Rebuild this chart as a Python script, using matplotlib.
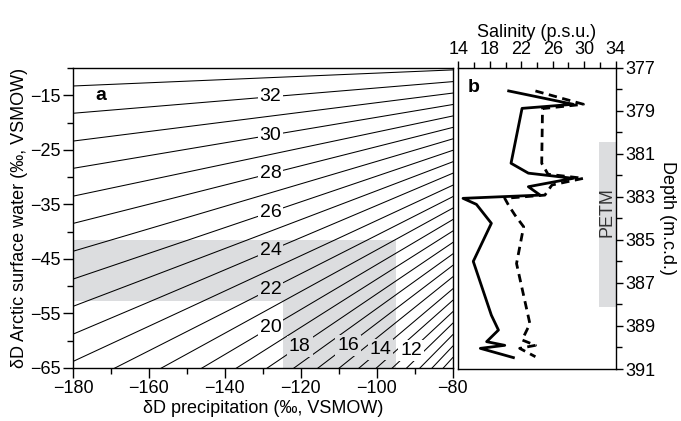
import numpy as np
import matplotlib.pyplot as plt
from matplotlib.ticker import MultipleLocator

plt.rcParams['font.family'] = ['Liberation Sans', 'DejaVu Sans']
plt.rcParams['font.size'] = 13

# panel a: salinity isolines, dD of surface water at dD precip = -180 and -80
sal_levels = [33, 32, 31, 30, 29, 28, 27, 26, 25, 24, 23, 22, 21, 20,
              19, 18, 17, 16, 15, 14, 13, 12, 11, 10, 9, 8]
sw_at_p180 = [-13.3, -18.3, -23.4, -28.4, -33.5, -38.5, -43.6, -48.7, -53.7,
              -58.8, -63.8, -68.9, -73.9, -79.0, -84.0, -89.1, -94.1, -99.2,
              -104.2, -109.3, -114.3, -119.4, -124.4, -129.5, -134.5, -139.6]
sw_at_p80 = [-10.35, -12.5, -14.6, -16.7, -18.8, -20.9, -23.0, -25.1, -27.2,
             -29.3, -31.5, -33.6, -35.7, -37.8, -39.9, -42.0, -44.1, -46.2,
             -48.3, -50.5, -52.6, -54.7, -56.8, -58.9, -61.0, -63.1]
label_sal = [32, 30, 28, 26, 24, 22, 20, 18, 16, 14, 12]
label_x = [-128, -128, -128, -128, -128, -128, -128, -120.3, -107.6, -99, -91]
grey_labels = [24, 22, 18, 16, 14]

# panel b: salinity profiles
solid_sal = [20.4, 28.6, 22.1, 20.7, 22.9, 28.6, 22.9, 24.4, 14.6, 16.3,
             18.2, 15.9, 18.2, 19.1, 17.6, 19.9, 16.8, 21.0]
solid_depth = [378.08, 378.70, 378.89, 381.44, 381.90, 382.14, 382.53, 382.92,
               383.07, 383.35, 384.23, 386.00, 388.5, 389.19, 389.73, 389.90,
               390.04, 390.47]
dash_sal = [23.8, 29.9, 24.7, 24.6, 25.4, 29.9, 25.9, 25.0, 19.9, 20.4, 21.2,
            22.3, 21.4, 23.1, 22.1, 23.8, 21.8, 23.8]
dash_depth = [378.08, 378.70, 378.90, 381.44, 381.95, 382.14, 382.45, 382.92,
              383.07, 383.40, 383.85, 384.39, 386.1, 388.9, 389.65, 389.90,
              390.04, 390.43]

grey = '#dcdddf'

fig = plt.figure(figsize=(6.81, 4.21), dpi=100)
ax = fig.add_axes([0.1072, 0.1259, 0.5576, 0.7126])
axb = fig.add_axes([0.6730, 0.1235, 0.2311, 0.7157])

# shaded range in panel a
ax.fill([-180, -95, -95, -124.8, -124.8, -180],
        [-41.5, -41.5, -65, -65, -52.7, -52.7], color=grey, lw=0, zorder=0)

xs = np.array([-180.0, -80.0])
for s, y0, y1 in zip(sal_levels, sw_at_p180, sw_at_p80):
    ax.plot(xs, [y0, y1], color='black', lw=0.75, zorder=1)

for s, lx in zip(label_sal, label_x):
    i = sal_levels.index(s)
    ly = np.interp(lx, xs, [sw_at_p180[i], sw_at_p80[i]])
    fc = grey if s in grey_labels else 'white'
    ax.text(lx, ly, str(s), ha='center', va='center', fontsize=14, zorder=3,
            bbox=dict(boxstyle='square,pad=0.1', fc=fc, ec='none'))

ax.set_xlim(-180, -80)
ax.set_ylim(-65, -10)
ax.set_xticks([-180, -160, -140, -120, -100, -80])
ax.set_yticks([-15, -25, -35, -45, -55, -65])
ax.xaxis.set_minor_locator(MultipleLocator(10))
ax.set_yticks([-60, -50, -40, -30, -20, -10], minor=True)
ax.tick_params(which='major', length=7, width=1, direction='out', pad=2)
ax.tick_params(which='minor', length=4, width=1, direction='out')
ax.set_xlabel('δD precipitation (‰, VSMOW)', labelpad=2)
ax.set_ylabel('δD Arctic surface water (‰, VSMOW)', labelpad=1)
ax.text(-174, -15, 'a', fontsize=14, fontweight='bold', ha='left', va='center')

# panel b
axb.fill_between([31.9, 34], 380.44, 388.13, color=grey, lw=0, zorder=0)
axb.text(32.9, 383.7, 'PETM', rotation=90, ha='center', va='center',
         fontsize=13, color='#333333')
axb.plot(solid_sal, solid_depth, color='black', lw=2)
axb.plot(dash_sal, dash_depth, color='black', lw=2, dashes=(3, 2))
axb.set_xlim(14, 34)
axb.set_ylim(391, 377)
axb.xaxis.tick_top()
axb.xaxis.set_label_position('top')
axb.yaxis.tick_right()
axb.yaxis.set_label_position('right')
axb.set_xticks([14, 18, 22, 26, 30, 34])
axb.xaxis.set_minor_locator(MultipleLocator(2))
axb.set_yticks([377, 379, 381, 383, 385, 387, 389, 391])
axb.yaxis.set_minor_locator(MultipleLocator(1))
axb.tick_params(which='major', length=5, width=1, direction='out', pad=2)
axb.tick_params(which='minor', length=4, width=1, direction='out')
axb.set_xlabel('Salinity (p.s.u.)', labelpad=3)
axb.set_ylabel('Depth (m.c.d.)', rotation=270, labelpad=15)
axb.text(15.2, 377.9, 'b', fontsize=14, fontweight='bold', ha='left', va='center')

for a in (ax, axb):
    for sp in a.spines.values():
        sp.set_linewidth(1)

fig.savefig('out.png', dpi=100)
